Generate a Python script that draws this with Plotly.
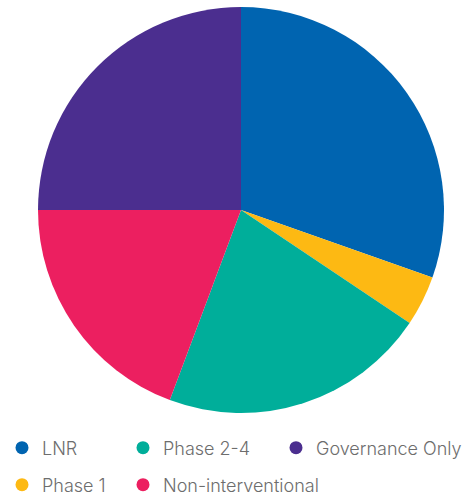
import plotly.graph_objects as go

labels = ["LNR", "Phase 1", "Phase 2-4", "Non-interventional", "Governance Only"]
values = [30.4, 4.0, 21.3, 19.3, 25.0]
colors = ["#0064b0", "#fdb913", "#00ae9a", "#ec1f60", "#4b2e8f"]

W, H = 469, 497
# legend item placement: (left px, centre y px)
legend_pos = {
    "LNR": (2, 448),
    "Phase 1": (2, 485),
    "Phase 2-4": (123, 448),
    "Non-interventional": (123, 485),
    "Governance Only": (276, 448),
}

fig = go.Figure()
fig.add_trace(go.Pie(
    labels=labels, values=values, sort=False, direction="clockwise", rotation=0,
    marker=dict(colors=colors, line=dict(width=0)), textinfo="none",
    hoverinfo="label+value", showlegend=False,
    domain=dict(x=[38 / W, 444 / W], y=[1 - 413 / H, 1 - 7 / H]),
))

font = dict(family="Inter", size=18, color="#6d6d6d", weight=300)
legends = {}
for i, n in enumerate(labels):
    key = "legend" if i == 0 else f"legend{i + 1}"
    c = colors[i]
    fig.add_trace(go.Scatter(
        x=[None], y=[None], mode="markers", name=n, legend=key,
        marker=dict(color=c, size=13, symbol="circle"),
    ))
    px_, py_ = legend_pos[n]
    legends[key] = dict(x=px_ / W, y=1 - py_ / H, xanchor="left", yanchor="middle",
                        orientation="v", font=font, bgcolor="rgba(0,0,0,0)",
                        itemwidth=30)

fig.update_layout(
    width=W, height=H, margin=dict(l=0, r=0, t=0, b=0, autoexpand=False),
    paper_bgcolor="white", plot_bgcolor="white",
    xaxis=dict(visible=False), yaxis=dict(visible=False),
    **legends,
)
fig.write_html("out.html")
